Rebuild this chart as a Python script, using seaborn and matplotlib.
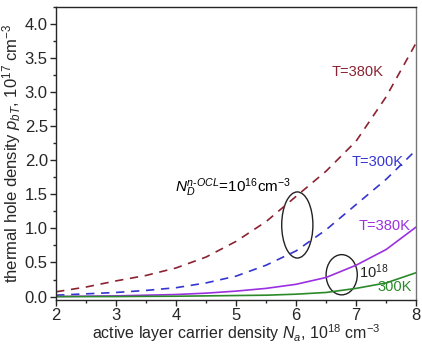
import numpy as np
import pandas as pd
import matplotlib
matplotlib.use("Agg")
import matplotlib.pyplot as plt
import seaborn as sns
from matplotlib.patches import Ellipse
from matplotlib.ticker import MultipleLocator

# data
na = [2.0, 2.5, 3.0, 3.5, 4.0, 4.5, 5.0, 5.5, 6.0, 6.5, 7.0, 7.5, 8.0]
p_380_1e16 = [0.07, 0.14, 0.23, 0.31, 0.42, 0.58, 0.81, 1.10, 1.47, 1.84, 2.28, 2.93, 3.72]
p_300_1e16 = [0.02, 0.04, 0.06, 0.09, 0.13, 0.20, 0.30, 0.46, 0.67, 0.98, 1.35, 1.72, 2.15]
p_380_1e18 = [0.00, 0.005, 0.01, 0.02, 0.03, 0.05, 0.08, 0.12, 0.18, 0.28, 0.46, 0.69, 1.02]
p_300_1e18 = [0.00, 0.00, 0.00, 0.003, 0.005, 0.01, 0.015, 0.02, 0.035, 0.06, 0.12, 0.20, 0.35]

sns.set_style("ticks")
plt.rcParams['font.family'] = ['Liberation Sans', 'DejaVu Sans']
plt.rcParams['mathtext.fontset'] = 'custom'
plt.rcParams['mathtext.rm'] = 'Liberation Sans'
plt.rcParams['mathtext.it'] = 'Liberation Sans:italic'

df = pd.DataFrame({'na': na, 'r16': p_380_1e16, 'b16': p_300_1e16,
                   'r18': p_380_1e18, 'g18': p_300_1e18})

fig = plt.figure(figsize=(4.22, 3.44), dpi=100)
ax = fig.add_axes([0.133, 0.128, 0.853, 0.852])

sns.lineplot(data=df, x='na', y='r16', ax=ax, color='#8b2232', lw=1.2)
ax.lines[-1].set_dashes([5, 4])
sns.lineplot(data=df, x='na', y='b16', ax=ax, color='#3535d0', lw=1.2)
ax.lines[-1].set_dashes([5, 4])
sns.lineplot(data=df, x='na', y='r18', ax=ax, color='#9b30e0', lw=1.2)
sns.lineplot(data=df, x='na', y='g18', ax=ax, color='#2a8a2a', lw=1.2)

ax.set_xlim(2, 8)
ax.set_ylim(-0.05, 4.25)
ax.xaxis.set_major_locator(MultipleLocator(1))
ax.xaxis.set_minor_locator(MultipleLocator(0.5))
ax.yaxis.set_major_locator(MultipleLocator(0.5))
ax.yaxis.set_minor_locator(MultipleLocator(0.25))
ax.tick_params(which='major', length=4, width=1, labelsize=12, direction='out', pad=2)
ax.tick_params(which='minor', length=2, width=1, direction='out')
for s in ax.spines.values():
    s.set_linewidth(1.0)
ax.spines['right'].set_color('#777777')

ax.set_xlabel(r'active layer carrier density $N_a$, 10$^{18}$ cm$^{-3}$', fontsize=11.5, labelpad=-1)
ax.set_ylabel(r'thermal hole density $p_{bT}$, 10$^{17}$ cm$^{-3}$', fontsize=12, labelpad=1)

# annotations
ax.text(6.6, 3.3, 'T=380K', color='#8b2232', fontsize=10.5, va='center')
ax.text(6.92, 1.98, 'T=300K', color='#3535d0', fontsize=10.5, va='center')
ax.text(7.05, 1.03, 'T=380K', color='#9b30e0', fontsize=10.5, va='center')
ax.text(7.05, 0.36, r'10$^{18}$', color='#222222', fontsize=10.5, va='center')
ax.text(7.35, 0.14, '300K', color='#2a8a2a', fontsize=10.5, va='center')
ax.text(3.98, 1.6, r'$N_D^{n\text{-}OCL}$=10$^{16}$cm$^{-3}$', color='black', fontsize=11, va='center')

ax.add_patch(Ellipse((6.02, 1.05), 0.52, 0.97, fill=False, ec='#222222', lw=1))
ax.add_patch(Ellipse((6.76, 0.32), 0.52, 0.59, fill=False, ec='#222222', lw=1))

fig.savefig('out.png', dpi=100)
